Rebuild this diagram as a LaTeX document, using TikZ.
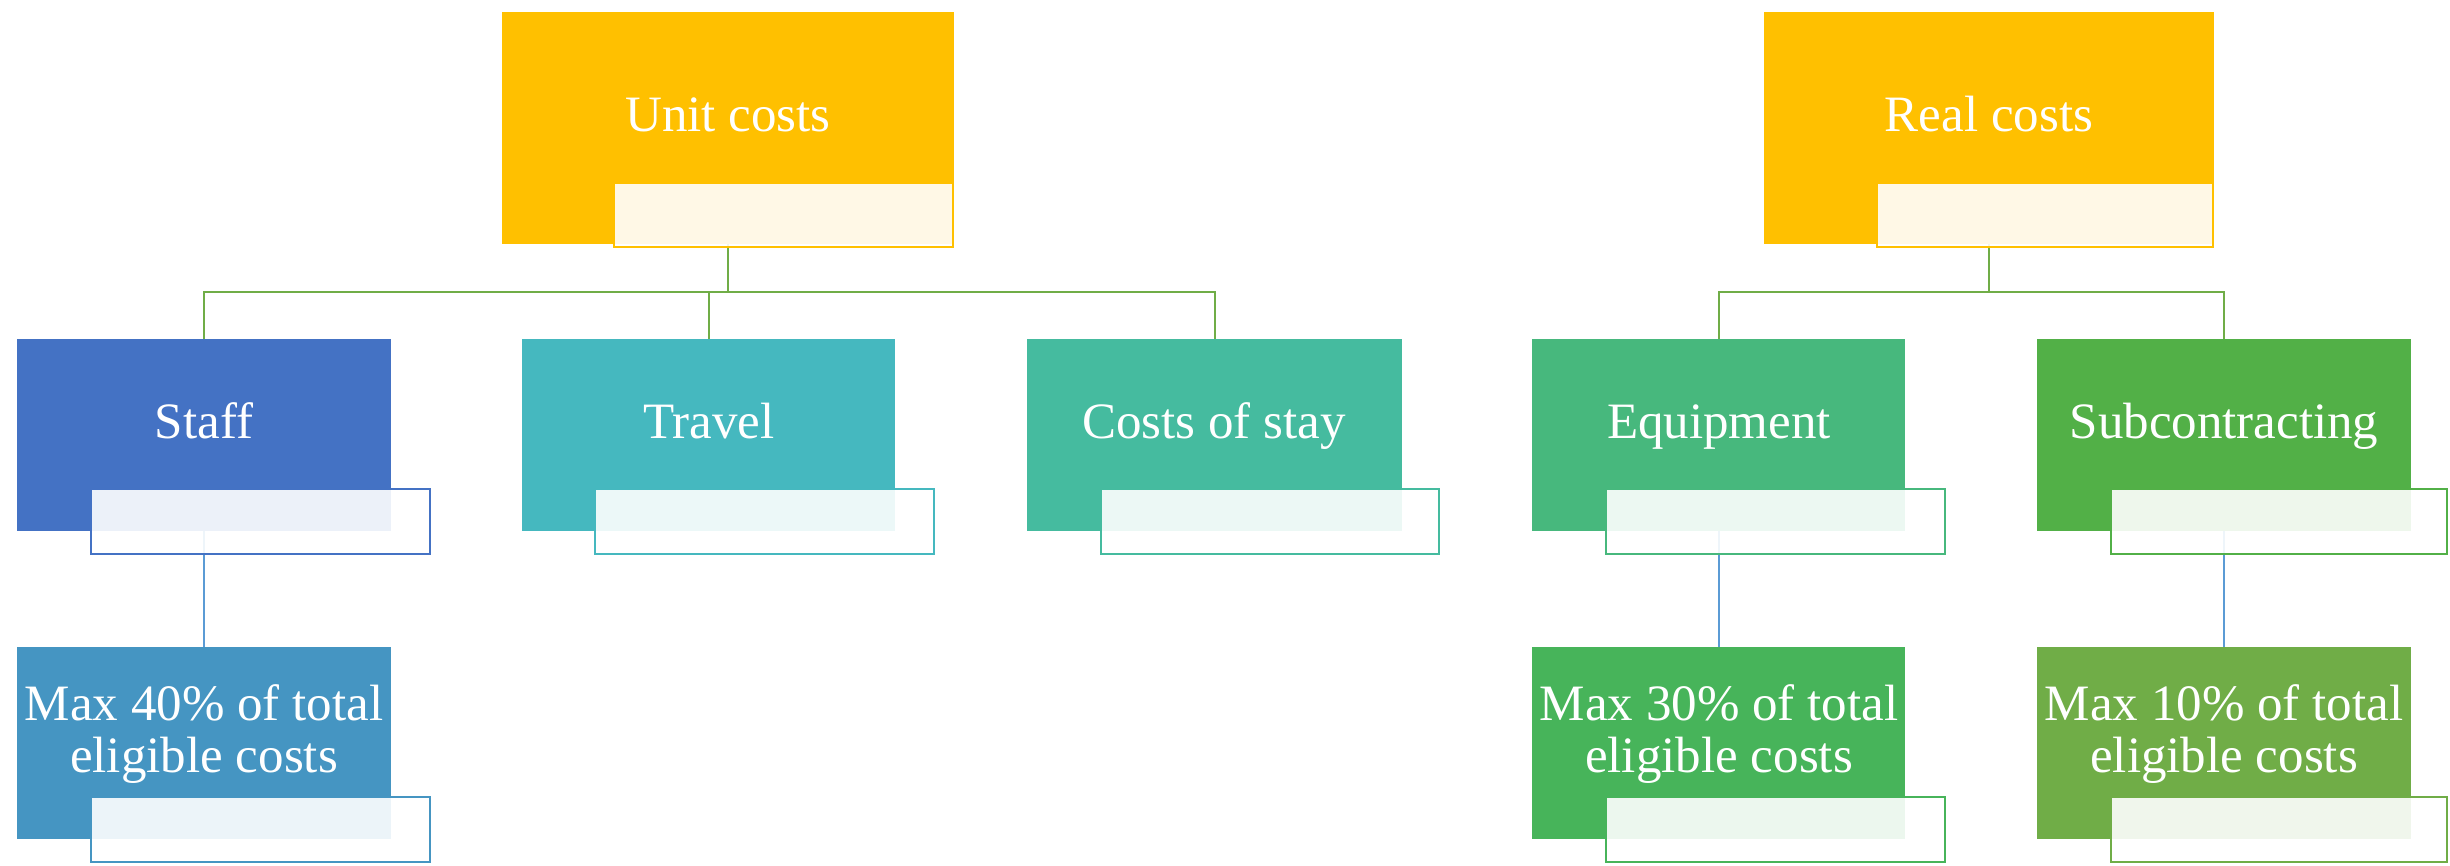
\documentclass[tikz,border=0pt]{standalone}
\usepackage{fontspec}
\setmainfont{Liberation Serif}
\usetikzlibrary{fit,backgrounds}
\definecolor{goldc}{HTML}{FFC000}
\definecolor{staffc}{HTML}{4472C4}
\definecolor{travelc}{HTML}{45B8BF}
\definecolor{stayc}{HTML}{45BB9F}
\definecolor{equipc}{HTML}{47B87D}
\definecolor{subcc}{HTML}{52B047}
\definecolor{maxfc}{HTML}{4595C2}
\definecolor{maxtc}{HTML}{47B45A}
\definecolor{maxoc}{HTML}{70AD47}
\definecolor{lineg}{HTML}{70AD47}
\definecolor{lineb}{HTML}{5B9BD5}
\begin{document}
\begin{tikzpicture}[x=0.5pt,y=-0.5pt,
  mainbox/.style={draw=none, fill=#1, inner sep=0pt, outer sep=0pt},
  accbox/.style={draw=#1, line width=1.25pt, fill=white, fill opacity=0.9, inner sep=0pt, outer sep=0pt},
  lbl/.style={anchor=base, text=white, inner sep=0pt, align=center, font=\fontsize{25.5}{26}\selectfont},
  conng/.style={draw=lineg, line width=1pt},
  connb/.style={draw=lineb, line width=1pt}]
\useasboundingbox (0,0) rectangle (2450,866);
% main boxes
\node (unit) [mainbox=goldc, fit={(502,12) (954,244)}] {};
\node (real) [mainbox=goldc, fit={(1764,12) (2214,244)}] {};
\node (staff) [mainbox=staffc, fit={(17,339) (391,531)}] {};
\node (travel) [mainbox=travelc, fit={(522,339) (895,531)}] {};
\node (stay) [mainbox=stayc, fit={(1027,339) (1402,531)}] {};
\node (equip) [mainbox=equipc, fit={(1532,339) (1905,531)}] {};
\node (subc) [mainbox=subcc, fit={(2037,339) (2411,531)}] {};
\node (maxf) [mainbox=maxfc, fit={(17,647) (391,839)}] {};
\node (maxt) [mainbox=maxtc, fit={(1532,647) (1905,839)}] {};
\node (maxo) [mainbox=maxoc, fit={(2037,647) (2411,839)}] {};
% accent boxes
\node (unitacc) [accbox=goldc, fit={(614,183) (953,247)}] {};
\node (realacc) [accbox=goldc, fit={(1877,183) (2213,247)}] {};
\node (staffacc) [accbox=staffc, fit={(91,489) (430,554)}] {};
\node (travelacc) [accbox=travelc, fit={(595,489) (934,554)}] {};
\node (stayacc) [accbox=stayc, fit={(1101,489) (1439,554)}] {};
\node (equipacc) [accbox=equipc, fit={(1606,489) (1945,554)}] {};
\node (subcacc) [accbox=subcc, fit={(2111,489) (2447,554)}] {};
\node (maxfacc) [accbox=maxfc, fit={(91,797) (430,862)}] {};
\node (maxtacc) [accbox=maxtc, fit={(1606,797) (1945,862)}] {};
\node (maxoacc) [accbox=maxoc, fit={(2111,797) (2447,862)}] {};
% labels
\node (unitt) [lbl] at (728,132) {Unit costs};
\node (realt) [lbl] at (1989,132) {Real costs};
\node (stafft) [lbl] at (204,438) {Staff};
\node (travelt) [lbl] at (709,438) {Travel};
\node (stayt) [lbl] at (1214,438) {Costs of stay};
\node (equipt) [lbl] at (1719,438) {Equipment};
\node (subct) [lbl] at (2224,438) {Subcontracting};
\node (maxft) [lbl] at (204,772) {Max 40\% of total\\eligible costs};
\node (maxtt) [lbl] at (1719,772) {Max 30\% of total\\eligible costs};
\node (maxot) [lbl] at (2224,772) {Max 10\% of total\\eligible costs};
% connectors
\coordinate (ubar) at (0,292);
\begin{scope}[on background layer]
\draw[conng] (staff.north) -- (staff.north |- ubar) -| (unit.south);
\draw[conng] (stay.north) -- (stay.north |- ubar) -| (unit.south);
\draw[conng] (travel.north) -- (travel.north |- ubar);
\draw[conng] (equip.north) -- (equip.north |- ubar) -| (real.south);
\draw[conng] (subc.north) -- (subc.north |- ubar) -| (real.south);
\draw[connb] (staff.south) -- (maxf.north);
\draw[connb] (equip.south) -- (maxt.north);
\draw[connb] (subc.south) -- (maxo.north);
\end{scope}
\end{tikzpicture}
\end{document}
